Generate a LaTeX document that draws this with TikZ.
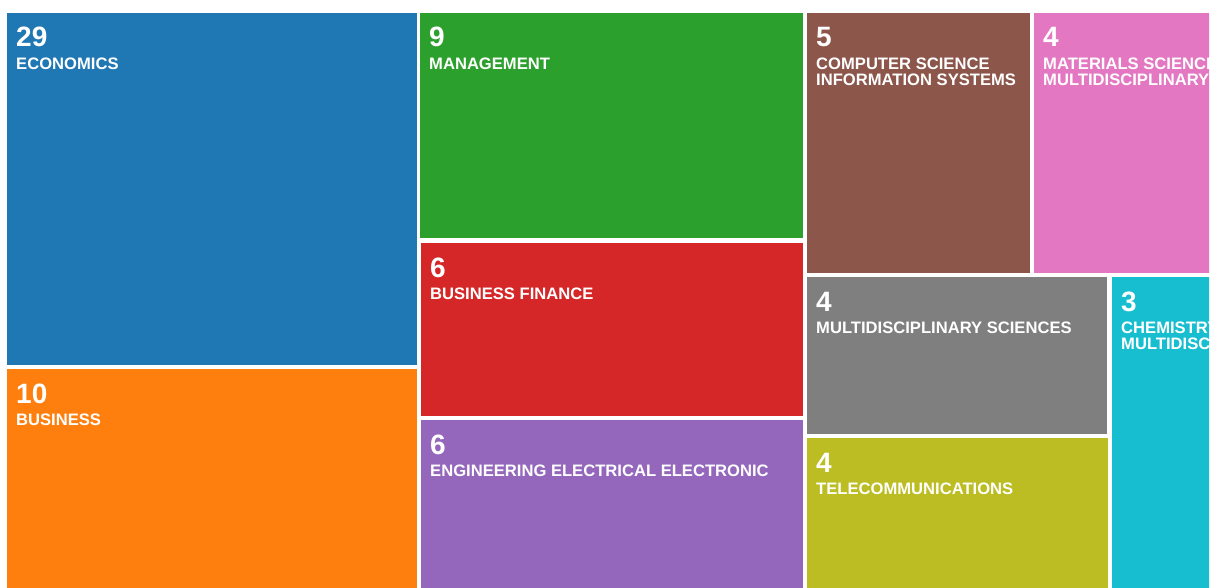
\documentclass[tikz,border=0pt]{standalone}
\usepackage{fontspec}
\setmainfont{Liberation Sans}
\usepackage{tikz}
\usepackage{xcolor}
\definecolor{tblue}{HTML}{1F77B4}
\definecolor{torange}{HTML}{FF7F0E}
\definecolor{tgreen}{HTML}{2CA02C}
\definecolor{tred}{HTML}{D62728}
\definecolor{tpurple}{HTML}{9467BD}
\definecolor{tbrown}{HTML}{8C564B}
\definecolor{tpink}{HTML}{E377C2}
\definecolor{tgray}{HTML}{7F7F7F}
\definecolor{tolive}{HTML}{BCBD22}
\definecolor{tcyan}{HTML}{17BECF}

\begin{document}
\begin{tikzpicture}[
		% one unit = one pixel, y runs downwards
		x={(1pt,0pt)},
		y={(0pt,-1pt)},
		num/.style={anchor=base west, inner sep=0pt, text=white,
				font=\fontsize{28}{28}\selectfont\bfseries},
		lbl/.style={anchor=north west, inner sep=0pt, text=white, align=left,
				font=\fontsize{16.6}{15.6}\selectfont\bfseries}
	]

	% Parameters
	\def\W{1212}
	\def\H{588}
	\def\R{1209}

	\useasboundingbox (0,0) rectangle (\W,\H);
	\clip (0,0) rectangle (\R,\H);

	%-------------------
	% Tile macro
	%-------------------
	\newcommand{\tile}[8]{% name,colour,x1,y1,x2,y2,count,field
		\fill[#2] (#3,#4) rectangle (#5,#6);
		\node[num] (#1-n) at (#3+9,#4+34) {#7};
		\node[lbl] (#1-l) at (#3+9,#4+45) {#8};
	}

	%-------------------
	% Left column
	%-------------------
	\tile{eco}{tblue}{7}{13}{417}{365}{29}{ECONOMICS}
	\tile{bus}{torange}{7}{369}{417}{620}{10}{BUSINESS}

	%-------------------
	% Middle column
	%-------------------
	\tile{man}{tgreen}{420}{13}{803}{238}{9}{MANAGEMENT}
	\tile{fin}{tred}{421}{243}{803}{416}{6}{BUSINESS FINANCE}
	\tile{eng}{tpurple}{421}{420}{803}{620}{6}{ENGINEERING ELECTRICAL ELECTRONIC}

	%-------------------
	% Right part
	%-------------------
	\tile{csi}{tbrown}{807}{13}{1030}{273}{5}{COMPUTER SCIENCE\\INFORMATION SYSTEMS}
	\tile{mat}{tpink}{1034}{13}{1300}{273}{4}{MATERIALS SCIENCE\\MULTIDISCIPLINARY}
	\tile{mul}{tgray}{807}{277}{1107}{434}{4}{MULTIDISCIPLINARY SCIENCES}
	\tile{che}{tcyan}{1112}{277}{1300}{620}{3}{CHEMISTRY\\MULTIDISCIPLINARY}
	\tile{tel}{tolive}{807}{438}{1108}{620}{4}{TELECOMMUNICATIONS}

\end{tikzpicture}
\end{document}
